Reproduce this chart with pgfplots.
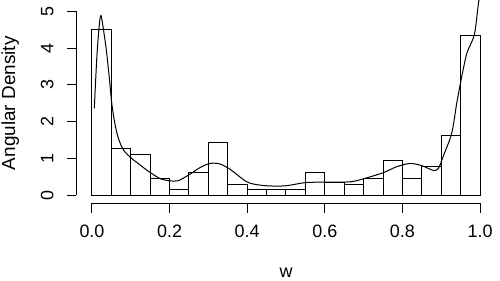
\documentclass[border=0pt]{standalone}
\usepackage{fontspec}
\setmainfont{Liberation Sans}
\usepackage{pgfplots}
\pgfplotsset{compat=1.18}

% histogram of w (bin width 0.05), density scale
\pgfplotstableread{
x      h
0.00   4.50
0.05   1.28
0.10   1.11
0.15   0.45
0.20   0.155
0.25   0.62
0.30   1.44
0.35   0.30
0.40   0.155
0.45   0.155
0.50   0.155
0.55   0.62
0.60   0.34
0.65   0.30
0.70   0.45
0.75   0.945
0.80   0.45
0.85   0.79
0.90   1.61
0.95   4.34
1.00   4.34
}\histtab

% kernel density estimate
\pgfplotstableread{
x      d
0.006  2.36
0.0137 3.95
0.022  4.88
0.029  4.55
0.038  3.86
0.046  3.05
0.051  2.50
0.059  1.95
0.068  1.55
0.081  1.23
0.102  1.00
0.124  0.82
0.141  0.68
0.175  0.45
0.201  0.39
0.222  0.39
0.253  0.57
0.278  0.745
0.304  0.86
0.330  0.845
0.356  0.70
0.399  0.36
0.433  0.27
0.467  0.245
0.502  0.255
0.551  0.34
0.600  0.35
0.665  0.36
0.699  0.44
0.751  0.61
0.785  0.77
0.820  0.86
0.850  0.80
0.880  0.67
0.893  0.73
0.905  1.05
0.927  1.68
0.940  2.50
0.953  3.23
0.966  3.86
0.979  4.18
0.987  4.45
0.996  5.23
0.998  5.31
}\denstab

\begin{document}
\begin{tikzpicture}
\begin{axis}[
    scale only axis,
    width=419.04bp,
    height=203.3bp,
    xmin=-0.04, xmax=1.04,
    ymin=-0.226, ymax=5.313,
    clip=false,
    axis x line*=bottom,
    axis y line*=left,
    axis line style={draw=none},
    xtick={0,0.2,0.4,0.6,0.8,1},
    ytick={0,1,2,3,4,5},
    xticklabels={},
    yticklabels={},
    tick align=outside,
    major tick length=9.5bp,
    tick style={black, line width=1bp},
]
\addplot[ybar interval, draw=black, fill=white, line width=1bp] table[x=x, y=h] {\histtab};
\addplot[black, line width=1bp, smooth, no markers] table[x=x, y=d] {\denstab};

% R style axis lines, spanning the tick range only
\draw[line width=1bp] (axis cs:0,-0.226) -- (axis cs:1,-0.226);
\draw[line width=1bp] (axis cs:-0.04,0) -- (axis cs:-0.04,5);

\pgfplotsinvokeforeach{0.0,0.2,0.4,0.6,0.8,1.0}{
  \node[anchor=base, inner sep=0pt, font=\fontsize{18}{18}\selectfont]
    at ([yshift=-34bp]axis cs:#1,-0.226) {#1};
}
\pgfplotsinvokeforeach{0,1,2,3,4,5}{
  \node[anchor=base, rotate=90, inner sep=0pt, font=\fontsize{18}{18}\selectfont]
    at ([xshift=-23bp]axis cs:-0.04,#1) {#1};
}
\node[anchor=base, inner sep=0pt, font=\fontsize{18}{18}\selectfont]
  at ([yshift=-73.7bp]axis cs:0.5,-0.226) {w};
\node[anchor=base, rotate=90, inner sep=0pt, font=\fontsize{19}{19}\selectfont]
  at ([xshift=-61.2bp]axis cs:-0.04,2.5) {Angular Density};

\coordinate (bl) at (axis cs:-0.237,-2.316);
\coordinate (tr) at (axis cs:1.0515,5.313);
\end{axis}
\pgfresetboundingbox
\path[use as bounding box] (bl) rectangle (tr);
\end{tikzpicture}
\end{document}
